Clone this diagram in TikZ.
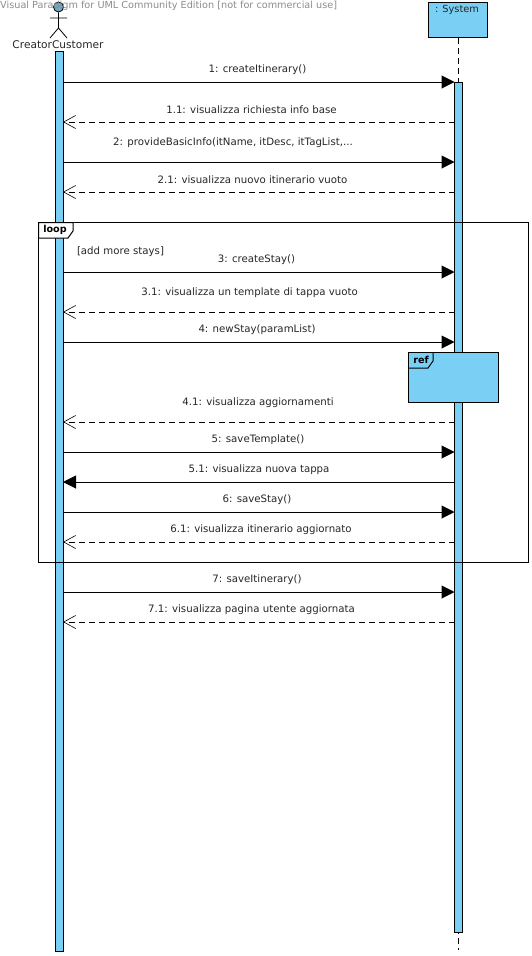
\documentclass[tikz,border=0pt]{standalone}
\usepackage{fontspec}
\setmainfont{DejaVu Sans}
\usetikzlibrary{positioning,arrows.meta}
\definecolor{barblue}{HTML}{7ACFF5}
\definecolor{actorblue}{HTML}{6FA9C9}
\tikzset{
  bar/.style={draw,fill=barblue,line width=1pt,minimum width=8pt,inner sep=0pt},
  msg/.style={font=\fontsize{10.2}{12}\selectfont,text=black!85,inner sep=0pt},
  call/.style={line width=1pt,-{Triangle[length=13pt,width=13pt]}},
  back/.style={line width=1pt,dash pattern=on 6pt off 4pt,-{Straight Barb[length=12pt,width=13pt,line width=.6pt]}},
  backfull/.style={line width=1pt,-{Triangle[length=13pt,width=13pt]}},
  frameline/.style={line width=1pt}
}
\begin{document}
\begin{tikzpicture}[x=1pt,y=-1pt]
\useasboundingbox (0,0) rectangle (532,956);
% lifelines
\node[draw,fill=barblue,line width=1pt,minimum width=59pt,minimum height=35pt,inner sep=0pt] (system) at (458,20) {};
\node[font=\fontsize{9.8}{12}\selectfont,text=black!85,inner sep=0pt] (systemlabel) at (457,9.5) {: System};
\coordinate (lifeend) at (458,950);
\draw[line width=1pt,dash pattern=on 6pt off 4pt] (system.south) -- (lifeend);
\node[bar,minimum height=900pt] (creatorbar) at (59,501) {};
\node[bar,minimum height=850pt] (systembar) at (458.5,507) {};
% actor
\node[circle,draw,fill=actorblue,line width=.8pt,minimum size=10pt,inner sep=0pt] (head) at (58.5,7) {};
\coordinate (hip) at (58.5,28);
\coordinate (armL) at (50,18);
\coordinate (armR) at (67,18);
\coordinate (footL) at (50,38);
\coordinate (footR) at (67,38);
\draw[line width=.8pt] (head.south) -- (hip) (armL) -- (armR) (footL) -- (hip) -- (footR);
\node[font=\fontsize{10.6}{12}\selectfont,text=black!85,inner sep=0pt] (creator) at (58,44.5) {CreatorCustomer};
% loop frame
\node[draw,line width=1pt,minimum width=489.5pt,minimum height=339.5pt,inner sep=0pt] (loopframe) at (283.25,392.25) {};
\coordinate (looptabA) at (38.5,238);
\coordinate (looptabB) at (68,238);
\coordinate (looptabC) at (73,231);
\coordinate (looptabD) at (73,222.5);
\coordinate (looptabE) at (38.5,222.5);
\draw[frameline,fill=white] (looptabA) -- (looptabB) -- (looptabC) -- (looptabD) -- (looptabE) -- cycle;
\node[font=\bfseries\fontsize{9.6}{12}\selectfont,inner sep=0pt] (looplabel) at (55,230) {loop};
\node[msg] (guard) at (120.5,251.5) {[add more stays]};
% messages
\foreach \n/\y in {1/82,2/122,3/162,4/192,5/272,6/312,7/342,8/422,9/452,10/482,11/512,12/542,13/592,14/622}{
  \coordinate (c\n) at (63,\y);
  \coordinate (s\n) at (454.5,\y);
}
\draw[call] (c1) -- (s1);
\draw[back] (s2) -- (c2);
\draw[call] (c3) -- (s3);
\draw[back] (s4) -- (c4);
\draw[call] (c5) -- (s5);
\draw[back] (s6) -- (c6);
\draw[call] (c7) -- (s7);
\draw[back] (s8) -- (c8);
\draw[call] (c9) -- (s9);
\draw[backfull] (s10) -- (c10);
\draw[call] (c11) -- (s11);
\draw[back] (s12) -- (c12);
\draw[call] (c13) -- (s13);
\draw[back] (s14) -- (c14);
\node[msg] (m1) at (257.5,69.5) {1: createItinerary()};
\node[msg] (m2) at (251.5,109.5) {1.1: visualizza richiesta info base};
\node[msg] (m3) at (233,142.5) {2: provideBasicInfo(itName, itDesc, itTagList,...};
\node[msg] (m4) at (252.5,179.5) {2.1: visualizza nuovo itinerario vuoto};
\node[msg] (m5) at (256.5,259.5) {3: createStay()};
\node[msg] (m6) at (249.5,292.5) {3.1: visualizza un template di tappa vuoto};
\node[msg] (m7) at (257,329.5) {4: newStay(paramList)};
\node[msg] (m8) at (258,402.5) {4.1: visualizza aggiornamenti};
\node[msg] (m9) at (258,439.5) {5: saveTemplate()};
\node[msg] (m10) at (259,469.5) {5.1: visualizza nuova tappa};
\node[msg] (m11) at (257,499.5) {6: saveStay()};
\node[msg] (m12) at (261,529.5) {6.1: visualizza itinerario aggiornato};
\node[msg] (m13) at (257,579.5) {7: saveItinerary()};
\node[msg] (m14) at (251.5,609.5) {7.1: visualizza pagina utente aggiornata};
% ref box
\node[draw,fill=barblue,line width=1pt,minimum width=90pt,minimum height=50pt,inner sep=0pt] (refbox) at (453.5,377.5) {};
\coordinate (reftabA) at (408.5,368);
\coordinate (reftabB) at (428,368);
\coordinate (reftabC) at (433,361);
\coordinate (reftabD) at (433,352.5);
\draw[line width=1pt] (reftabA) -- (reftabB) -- (reftabC) -- (reftabD);
\node[font=\bfseries\fontsize{9.6}{12}\selectfont,inner sep=0pt] (reflabel) at (421,359.5) {ref};
% watermark
\node[font=\fontsize{9.7}{12}\selectfont,text=black!45,inner sep=0pt,anchor=west] (mark) at (0,6) {Visual Paradigm for UML Community Edition [not for commercial use]};
\end{tikzpicture}
\end{document}
